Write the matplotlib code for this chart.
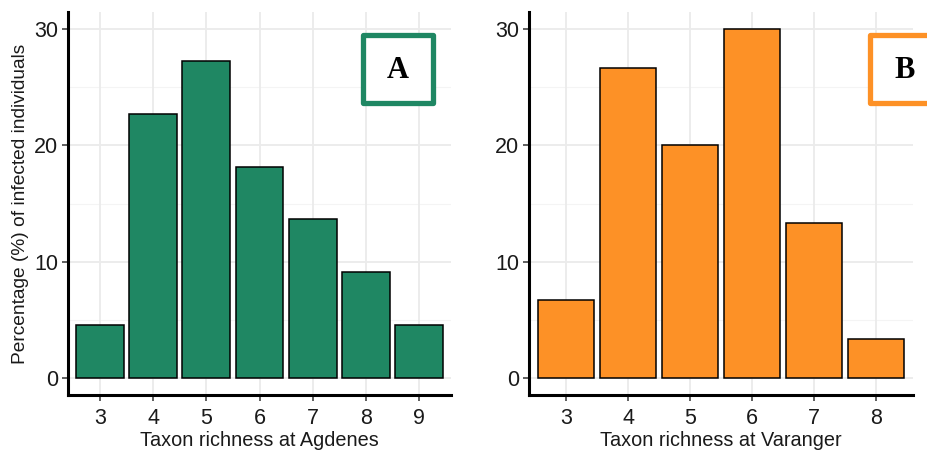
import numpy as np
import matplotlib.pyplot as plt
from matplotlib.patches import Rectangle

# percentages per taxon richness
richness_a = [3, 4, 5, 6, 7, 8, 9]
pct_a = [4.55, 22.73, 27.27, 18.18, 13.64, 9.09, 4.55]
richness_b = [3, 4, 5, 6, 7, 8]
pct_b = [6.67, 26.67, 20.0, 30.0, 13.33, 3.33]

green = '#1F8763'
orange = '#FD9126'

plt.rcParams['font.family'] = ['Liberation Sans', 'DejaVu Sans']

W, H = 928, 453
fig = plt.figure(figsize=(W / 100, H / 100), dpi=100)


def panel(left, right, xs, ys, color, xlabel, ylabel=None):
    ax = fig.add_axes([left / W, 1 - 395 / H, (right - left) / W, (395 - 12) / H])
    pos = np.arange(len(xs))
    ax.set_axisbelow(True)
    for y in [5, 15, 25]:
        ax.axhline(y, color='#F4F4F4', lw=0.8, zorder=0)
    for y in [0, 10, 20, 30]:
        ax.axhline(y, color='#EBEBEB', lw=1.3, zorder=0)
    for p in pos:
        ax.axvline(p, color='#EBEBEB', lw=1.3, zorder=0)
    ax.bar(pos, ys, width=0.9, color=color, edgecolor='black', linewidth=1.1, zorder=2)
    ax.set_xlim(-0.6, len(xs) - 0.4)
    ax.set_ylim(-1.5, 31.5)
    ax.set_xticks(pos)
    ax.set_xticklabels([str(x) for x in xs])
    ax.set_yticks([0, 10, 20, 30])
    for s in ['top', 'right']:
        ax.spines[s].set_visible(False)
    for s in ['left', 'bottom']:
        ax.spines[s].set_linewidth(2.2)
        ax.spines[s].set_color('black')
    ax.tick_params(axis='both', length=4, width=1.1, color='#333333',
                   labelsize=15.5, labelcolor='#1a1a1a', pad=3)
    ax.tick_params(axis='x', pad=5)
    ax.set_xlabel(xlabel, fontsize=14.3, color='#1a1a1a', labelpad=2)
    if ylabel:
        ax.set_ylabel(ylabel, fontsize=13.8, color='#1a1a1a', labelpad=4)
    return ax


panel(68, 451, richness_a, pct_a, green, 'Taxon richness at Agdenes',
      'Percentage (%) of infected individuals')
panel(529, 913, richness_b, pct_b, orange, 'Taxon richness at Varanger')

for x0, letter, col in [(363, 'A', green), (870, 'B', orange)]:
    rect = Rectangle((x0 / W, 1 - 103 / H), 70 / W, 68 / H, transform=fig.transFigure,
                     facecolor='white', edgecolor=col, linewidth=3.8, joinstyle='round')
    fig.add_artist(rect)
    fig.text((x0 + 35) / W, 1 - 70 / H, letter, ha='center', va='center',
             fontsize=22, fontweight='bold', family=['Liberation Serif', 'DejaVu Serif'])

fig.savefig('out.png', dpi=100)
